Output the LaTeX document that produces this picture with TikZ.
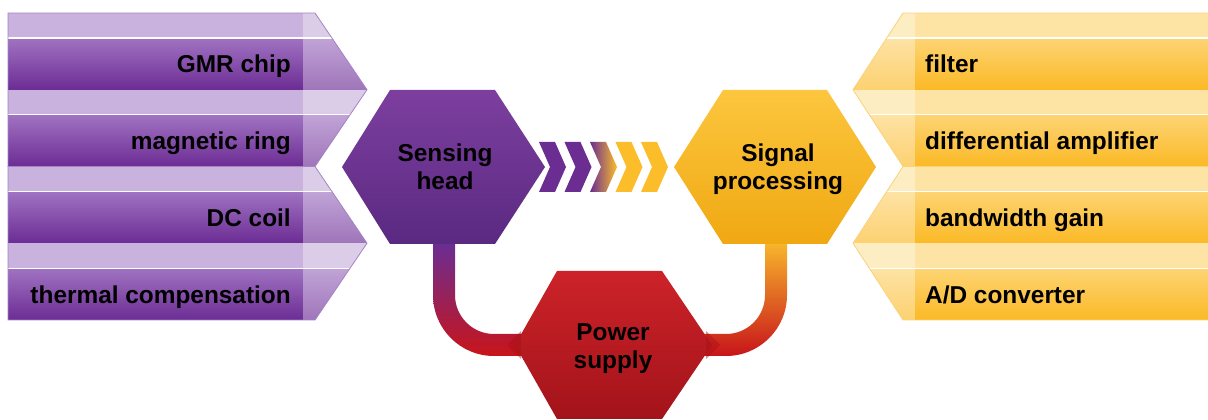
\documentclass[tikz,border=0pt]{standalone}
\usepackage{fontspec}
\setmainfont{Liberation Sans}
\definecolor{lpLight}{HTML}{C9B2DD}
\definecolor{lpTop}{HTML}{A073C2}
\definecolor{lpBot}{HTML}{6C2C94}
\definecolor{lpEdge}{HTML}{A583C6}
\definecolor{lyLight}{HTML}{FDE4A4}
\definecolor{lyTop}{HTML}{FDD474}
\definecolor{lyBot}{HTML}{FBB925}
\definecolor{lyEdge}{HTML}{FAD27A}
\definecolor{hpTop}{HTML}{7D3F9F}
\definecolor{hpBot}{HTML}{5A2981}
\definecolor{hyTop}{HTML}{FCC63E}
\definecolor{hyBot}{HTML}{F0A812}
\definecolor{hrTop}{HTML}{CC2329}
\definecolor{hrBot}{HTML}{A3131A}
\definecolor{chP}{HTML}{6B2D92}
\definecolor{chY}{HTML}{FBBD2A}
\definecolor{conR}{HTML}{C8141A}
\definecolor{conO}{HTML}{F7B42C}
\definecolor{shR}{HTML}{A80F16}
\begin{document}
\begin{tikzpicture}[x=1pt,y=1pt,
  lbl/.style={font=\bfseries\fontsize{24.4}{28}\selectfont,text=black,inner sep=0pt},
  hexlbl/.style={lbl,align=center}]
\useasboundingbox (0,0) rectangle (1208,420);

% ---------- left banners ----------
\foreach \a/\m/\b in {407/330.25/253.5,253.5/176.75/100}{
  \begin{scope}
    \clip (8,\a)--(315,\a)--(367,\m)--(315,\b)--(8,\b)--cycle;
    \foreach \t in {\a,\m}{
      \fill[lpLight] (8,{\t-25}) rectangle (400,\t);
      \shade[top color=lpTop,bottom color=lpBot] (8,{\t-76.75}) rectangle (400,{\t-25});
      \draw[white,line width=1.2] (8,{\t-25})--(400,{\t-25});
    }
    \fill[white,opacity=.35] (303,0) rectangle (400,420);
  \end{scope}
  \draw[lpEdge,line width=.8] (8,\a)--(315,\a)--(367,\m)--(315,\b)--(8,\b)--cycle;
}
\node[lbl,anchor=base east] (l1) at (291,347) {GMR chip};
\node[lbl,anchor=base east] (l2) at (291,270.25) {magnetic ring};
\node[lbl,anchor=base east] (l3) at (291,193.5) {DC coil};
\node[lbl,anchor=base east] (l4) at (291,116.25) {thermal compensation};

% ---------- right banners ----------
\foreach \a/\m/\b in {407/330.25/253.5,253.5/176.75/100}{
  \begin{scope}
    \clip (1212,\a)--(903,\a)--(853,\m)--(903,\b)--(1212,\b)--cycle;
    \foreach \t in {\a,\m}{
      \fill[lyLight] (840,{\t-25}) rectangle (1212,\t);
      \shade[top color=lyTop,bottom color=lyBot] (840,{\t-76.75}) rectangle (1212,{\t-25});
      \draw[white,line width=1.2] (840,{\t-25})--(1212,{\t-25});
    }
    \fill[white,opacity=.35] (840,0) rectangle (915,420);
  \end{scope}
  \draw[lyEdge,line width=.8] (1212,\a)--(903,\a)--(853,\m)--(903,\b)--(1212,\b);
}
\node[lbl,anchor=base west] (r1) at (925,347) {filter};
\node[lbl,anchor=base west] (r2) at (925,270.25) {differential amplifier};
\node[lbl,anchor=base west] (r3) at (925,193.5) {bandwidth gain};
\node[lbl,anchor=base west] (r4) at (925,116.25) {A/D converter};

% ---------- connectors to power supply ----------
\shade[top color=chP,middle color=conR,bottom color=conR]
  (433,176)--(433,125) arc[start angle=180,end angle=270,radius=61]
  --(530,64)--(530,86)--(494,86) arc[start angle=270,end angle=180,radius=39]
  --(455,125)--(455,176)--cycle;
\shade[top color=conO,middle color=conR,bottom color=conR]
  (787,176)--(787,125) arc[start angle=0,end angle=-90,radius=61]
  --(698,64)--(698,86)--(726,86) arc[start angle=-90,end angle=0,radius=39]
  --(765,125)--(765,176)--cycle;

% ---------- hexagons ----------
\shade[top color=hpTop,bottom color=hpBot]
  (342,253)--(390,330)--(495,330)--(545,253)--(495,176)--(390,176)--cycle;
\shade[top color=hyTop,bottom color=hyBot]
  (674,253)--(723,330)--(827,330)--(876,253)--(827,176)--(723,176)--cycle;
\shade[top color=hrTop,bottom color=hrBot]
  (515,75)--(557,149)--(662,149)--(712,75)--(662,1)--(557,1)--cycle;
\fill[shR,opacity=.45] (507,75)--(521,89)--(521,61)--cycle;
\fill[shR,opacity=.45] (720,75)--(706,89)--(706,61)--cycle;

\node[hexlbl] (sense) at (445,253) {Sensing\\head};
\node[hexlbl] (signal) at (778,251) {Signal\\processing};
\node[hexlbl] (power) at (613,71) {Power\\supply};

% ---------- chevrons ----------
\foreach \x in {539,564.5}{
  \fill[chP] (\x,278)--(\x+16,278)--(\x+27,253)--(\x+16,228)--(\x,228)--(\x+11,253)--cycle;
}
\shade[left color=chP,right color=chY]
  (590,278)--(606,278)--(617,253)--(606,228)--(590,228)--(601,253)--cycle;
\foreach \x in {615.5,641}{
  \fill[chY] (\x,278)--(\x+16,278)--(\x+27,253)--(\x+16,228)--(\x,228)--(\x+11,253)--cycle;
}
\end{tikzpicture}
\end{document}
